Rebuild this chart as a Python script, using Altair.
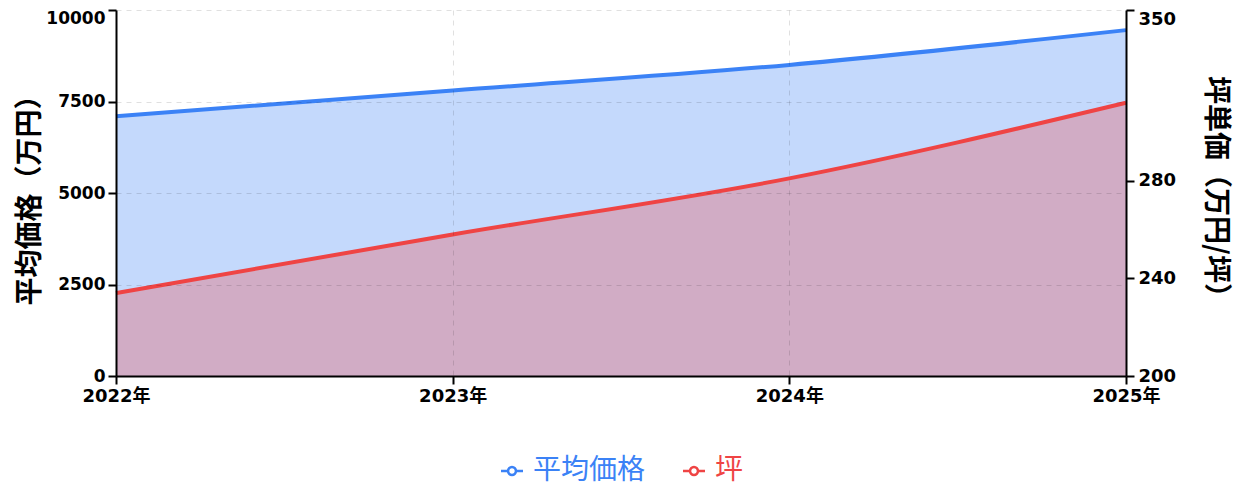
import altair as alt
import pandas as pd

# ---- data ----
years = ["2022年", "2023年", "2024年", "2025年"]
avg_price = [7100, 7800, 8500, 9450]          # 平均価格（万円）
tsubo_price = [234, 258, 281, 312]            # 坪単価（万円/坪）
series_names = ["平均価格", "坪"]
series_colors = ["#3b82f6", "#ef4444"]
left_ticks = [0, 2500, 5000, 7500, 10000]
right_ticks = [200, 240, 280, 350]

df = pd.DataFrame({"year": years, "avg": avg_price, "tsubo": tsubo_price})

LABEL_FONT = "DejaVu Sans, Noto Sans CJK JP"
CJK = "Noto Sans CJK JP"
BLUE, RED = series_colors

common_axis = dict(
    domainColor="black", domainWidth=2, tickColor="black", tickWidth=2, tickSize=8,
    labelFont=LABEL_FONT, labelFontWeight="bold", labelColor="black",
    titleFont=CJK, titleFontSize=28, titleFontWeight="bold", titleColor="black",
    zindex=1,
)
grid_style = dict(gridDash=[5, 5], gridColor="#000000", gridOpacity=0.12, gridWidth=1)

x_enc = alt.X(
    "year:N", sort=years,
    scale=alt.Scale(type="point", padding=0),
    axis=alt.Axis(title=None, labelAngle=0, grid=True, labelPadding=3, labelFontSize=18,
                  **grid_style, **common_axis),
)

color_scale = alt.Scale(domain=series_names, range=series_colors)
legend_path = ("M-1,0H-0.36M0.36,0H1M-0.36,0A0.36,0.36 0 1,1 0.36,0"
               "A0.36,0.36 0 1,1 -0.36,0Z")
legend = alt.Legend(
    title=None, orient="none", direction="horizontal", legendX=382, legendY=447,
    symbolType=legend_path, symbolSize=484, symbolStrokeWidth=2.5,
    symbolFillColor="white", labelFont=CJK, labelFontSize=28, labelFontWeight="normal",
    labelColor={"expr": f"datum.value === '坪' ? '{RED}' : '{BLUE}'"},
    labelOffset=7, columnPadding=32,
)
color_enc = alt.Color("series:N", scale=color_scale, legend=legend)

y_left = alt.Y(
    "avg:Q",
    scale=alt.Scale(domain=[0, 10000], nice=False),
    axis=alt.Axis(
        title="平均価格（万円）", values=left_ticks, format="d", grid=True,
        labelPadding=3, titlePadding=1, labelFontSize=17,
        labelBaseline={"condition": {"test": "datum.value == 10000", "value": "top"}, "value": "middle"},
        **grid_style, **common_axis,
    ),
)
y_right = alt.Y(
    "tsubo:Q",
    scale=alt.Scale(domain=[200, 350], nice=False, zero=False),
    axis=alt.Axis(
        title="坪単価（万円/坪）", orient="right", values=right_ticks, format="d", grid=False,
        labelPadding=4, titlePadding=25, labelFontSize=18,
        labelBaseline={"condition": {"test": "datum.value == 350", "value": "top"}, "value": "middle"},
        **common_axis,
    ),
)

base = alt.Chart(df)
left = alt.layer(
    base.mark_area(interpolate="monotone", color=BLUE, opacity=0.3, clip=True).encode(x=x_enc, y=y_left),
    base.mark_line(interpolate="monotone", strokeWidth=4)
    .transform_calculate(series=f"'{series_names[0]}'")
    .encode(x=x_enc, y=y_left, color=color_enc),
)
right = alt.layer(
    base.mark_area(interpolate="monotone", color=RED, opacity=0.3, clip=True).encode(x=x_enc, y=y_right),
    base.mark_line(interpolate="monotone", strokeWidth=4)
    .transform_calculate(series=f"'{series_names[1]}'")
    .encode(x=x_enc, y=y_right, color=color_enc),
)

chart = (
    alt.layer(left, right)
    .resolve_scale(y="independent")
    .properties(
        width=1010, height=366,
        autosize=alt.AutoSizeParams(type="none"),
        padding={"left": 108, "top": 2, "right": 112, "bottom": 111},
        background="white",
    )
    .configure_view(stroke=None)
)

chart.save("out.html", embed_options={"renderer": "svg", "actions": False})
